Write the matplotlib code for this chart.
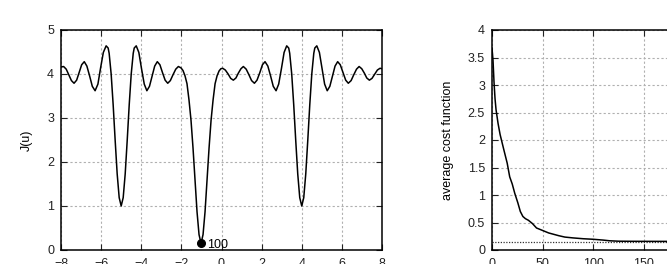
import matplotlib
matplotlib.use('Agg')
import matplotlib.pyplot as plt

plt.rcParams['font.family'] = ['Liberation Sans', 'DejaVu Sans']

# cost function J(u)
u_vals = [-8.0, -7.87, -7.74, -7.61, -7.48, -7.35, -7.22, -7.10, -6.97, -6.84,
          -6.71, -6.57, -6.44, -6.30, -6.16, -6.03, -5.89, -5.75, -5.65, -5.6,
          -5.5, -5.4, -5.3, -5.2, -5.1, -5.0, -4.9, -4.8, -4.7, -4.6,
          -4.5, -4.4, -4.35, -4.25, -4.12, -3.99, -3.85, -3.72, -3.59, -3.46,
          -3.33, -3.2, -3.07, -2.94, -2.81, -2.68, -2.55, -2.42, -2.28, -2.15,
          -2.02, -1.92, -1.82, -1.72, -1.62, -1.52, -1.42, -1.32, -1.22, -1.12,
          -1.02, -0.92, -0.82, -0.72, -0.62, -0.52, -0.42, -0.32, -0.22, -0.12,
          -0.03, 0.06, 0.19, 0.33, 0.46, 0.59, 0.72, 0.84, 0.97, 1.09,
          1.23, 1.37, 1.50, 1.64, 1.77, 1.91, 2.04, 2.17, 2.31, 2.45,
          2.58, 2.72, 2.85, 2.99, 3.12, 3.25, 3.35, 3.4, 3.5, 3.6,
          3.7, 3.8, 3.9, 4.0, 4.1, 4.2, 4.3, 4.4, 4.5, 4.6,
          4.65, 4.75, 4.88, 5.01, 5.14, 5.27, 5.40, 5.53, 5.66, 5.79,
          5.92, 6.06, 6.19, 6.32, 6.46, 6.59, 6.73, 6.86, 6.99, 7.12,
          7.24, 7.37, 7.50, 7.64, 7.77, 7.9, 8.0]
J_vals = [4.16, 4.17, 4.11, 3.98, 3.85, 3.79, 3.86, 4.03, 4.21, 4.28,
          4.18, 3.95, 3.72, 3.62, 3.77, 4.13, 4.49, 4.64, 4.59, 4.47,
          4.0, 3.30, 2.49, 1.73, 1.19, 1.0, 1.19, 1.73, 2.49, 3.30,
          4.0, 4.47, 4.59, 4.64, 4.49, 4.13, 3.77, 3.62, 3.72, 3.95,
          4.18, 4.28, 4.21, 4.03, 3.86, 3.79, 3.85, 3.98, 4.11, 4.17,
          4.14, 4.08, 3.96, 3.78, 3.41, 2.95, 2.32, 1.59, 0.87, 0.35,
          0.15, 0.35, 0.87, 1.59, 2.32, 2.95, 3.41, 3.78, 3.96, 4.07,
          4.12, 4.13, 4.09, 4.0, 3.90, 3.86, 3.91, 4.02, 4.12, 4.17,
          4.11, 3.98, 3.85, 3.79, 3.86, 4.03, 4.21, 4.28, 4.18, 3.95,
          3.72, 3.62, 3.77, 4.13, 4.49, 4.64, 4.59, 4.47, 4.0, 3.30,
          2.49, 1.73, 1.19, 1.0, 1.19, 1.73, 2.49, 3.30, 4.0, 4.47,
          4.59, 4.64, 4.49, 4.13, 3.77, 3.62, 3.72, 3.95, 4.18, 4.28,
          4.21, 4.03, 3.86, 3.79, 3.85, 3.98, 4.11, 4.17, 4.12, 4.02,
          3.91, 3.86, 3.90, 4.0, 4.09, 4.13, 4.12]

# final point marked on the curve
best_u = -1.02
best_J = 0.15
best_label = '100'

# average cost per iteration, right panel
iters = [0, 1, 2, 3, 4, 6, 8, 10, 12, 15,
         17.5, 20, 22.5, 25.5, 28, 30.5, 33, 36, 40, 44,
         48, 52, 56, 60, 66, 72, 80, 90, 100, 110,
         116, 125, 140, 160, 200]
avg_cost = [3.67, 3.45, 3.05, 2.75, 2.55, 2.3, 2.1, 1.95, 1.8, 1.58,
            1.33, 1.2, 1.03, 0.86, 0.7, 0.61, 0.57, 0.54, 0.48, 0.40,
            0.37, 0.34, 0.31, 0.29, 0.26, 0.235, 0.22, 0.205, 0.195, 0.18,
            0.168, 0.16, 0.158, 0.157, 0.156]
min_cost = 0.15

fig = plt.figure(figsize=(6.67, 2.64), dpi=100)
ax1 = fig.add_axes([61 / 667, 14 / 264, 321 / 667, 220 / 264])
ax2 = fig.add_axes([492 / 667, 14 / 264, 202.4 / 667, 220 / 264])

grid_kw = dict(color='#b0b0b0', linestyle=(0, (2, 2)), linewidth=0.8)

for ax in (ax1, ax2):
    ax.grid(True, **grid_kw)
    ax.set_axisbelow(True)
    ax.tick_params(direction='in', top=True, right=True, length=4,
                   labelsize=9, colors='#222222')
    ax.tick_params(axis='x', pad=5.5)
    ax.tick_params(axis='y', pad=5)
    for s in ax.spines.values():
        s.set_linewidth(1.1)

# left: J(u)
ax1.plot(u_vals, J_vals, color='black', lw=1.1)
ax1.plot([best_u], [best_J], 'o', color='black', ms=5.5, zorder=5)
ax1.annotate(best_label, (best_u, best_J), textcoords='offset points',
             xytext=(4, -1), ha='left', va='center', fontsize=9)
ax1.set_xlim(-8, 8)
ax1.set_ylim(0, 5)
ax1.set_xticks(range(-8, 9, 2))
ax1.set_yticks(range(0, 6))
ax1.set_ylabel('J(u)', fontsize=9, labelpad=10)

# right: average cost
ax2.axhline(min_cost, color='#333333', linestyle=(0, (1, 1.2)), lw=0.9)
ax2.plot(iters, avg_cost, color='black', lw=1.1)
ax2.set_xlim(0, 200)
ax2.set_ylim(0, 4)
ax2.set_xticks([0, 50, 100, 150, 200])
ax2.set_yticks([0, 0.5, 1, 1.5, 2, 2.5, 3, 3.5, 4])
ax2.set_yticklabels(['0', '0.5', '1', '1.5', '2', '2.5', '3', '3.5', '4'])
ax2.set_ylabel('average cost function', fontsize=9, labelpad=10)

fig.savefig('out.png', dpi=100)
